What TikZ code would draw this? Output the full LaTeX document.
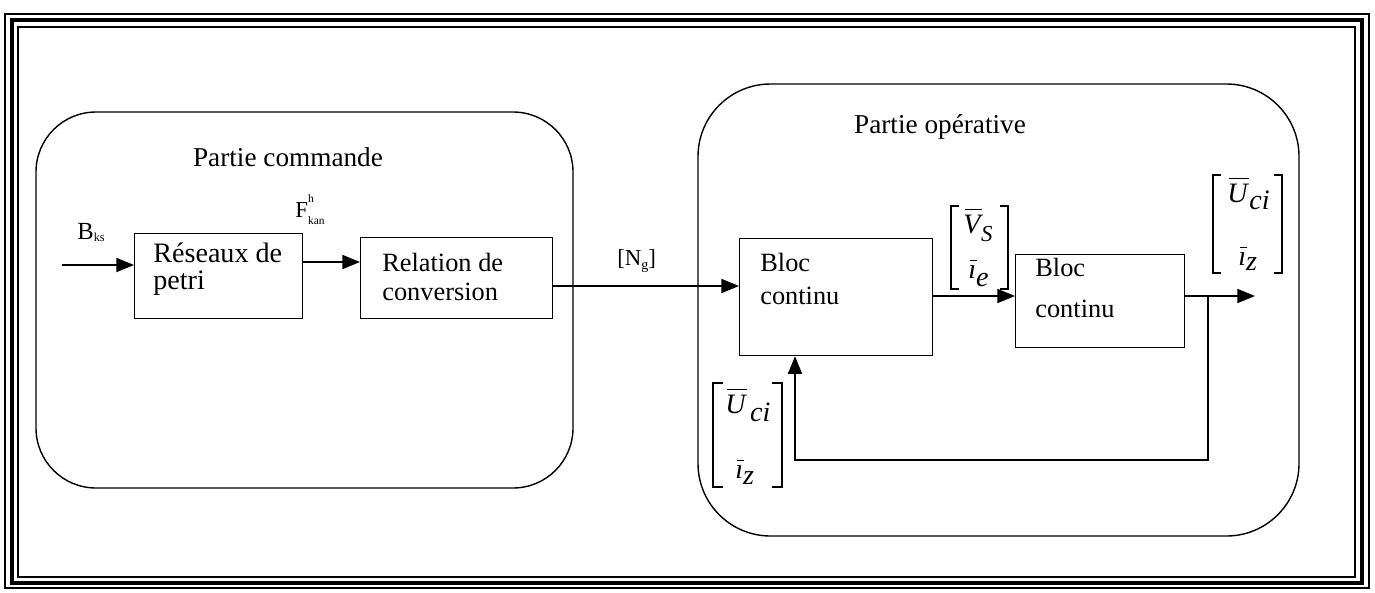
\documentclass[tikz,border=0pt]{standalone}
\usepackage{amsmath}
\usepackage{fontspec}
\setmainfont{Liberation Serif}
\usetikzlibrary{arrows.meta,calc}

% overbar drawn as a rule above a glyph (slightly shifted for italics)
\newcommand\barred[2][1.2pt]{\leavevmode\setbox0\hbox{#2}%
  \rlap{\kern#1\raisebox{\dimexpr\ht0+2.5pt\relax}{\rule{\dimexpr\wd0-0.6pt\relax}{0.6pt}}}\box0}
% same-size lowered index
\newcommand\lowidx[2]{\raisebox{-#1}{#2}}

\begin{document}
\begin{tikzpicture}[x=0.02cm,y=-0.02cm,
  blk/.style={draw,line width=0.7pt,inner sep=0pt,anchor=north west},
  lbl/.style={font=\fontsize{15}{16}\selectfont,inner sep=0pt,align=left,anchor=west},
  title/.style={font=\fontsize{15.5}{18}\selectfont,inner sep=0pt},
  small/.style={inner sep=0pt,anchor=base west},
  vec/.style={font=\fontsize{16}{18}\selectfont\itshape,inner sep=0pt,anchor=base west},
  wire/.style={line width=0.8pt},
  flow/.style={wire,-{Triangle[length=10pt,width=8pt]}},
  part/.style={draw,line width=0.8pt,rounded corners=#1},
  brk/.style={line width=0.6pt},
  thinframe/.style={line width=0.8pt},
  thickframe/.style={line width=2.4pt}
]
\useasboundingbox (0,0) rectangle (1375,592);

% triple outer frame
\draw[thinframe]  (5,14) rectangle (1369,588);
\draw[thickframe] (12,20) rectangle (1362,583);
\draw[thinframe]  (18,27) rectangle (1355,577);

% the two parts
\draw[part=1.2cm] (36,112) rectangle (573,488);
\draw[part=1.45cm] (698,84) rectangle (1299,536);
\node[title] (tcmd) at (288,157) {Partie commande};
\node[title] (top) at (940,127) {Partie opérative};

% blocks
\node[blk,minimum width=3.36cm,minimum height=1.70cm] (rp) at (134,233) {};
\node[blk,minimum width=3.84cm,minimum height=1.62cm] (rc) at (360,237) {};
\node[blk,minimum width=3.86cm,minimum height=2.34cm] (b1) at (739,238) {};
\node[blk,minimum width=3.38cm,minimum height=1.86cm] (b2) at (1015,254) {};

\node[lbl,font=\fontsize{16}{15.6}\selectfont] (rpt) at (153,269) {Réseaux de\\petri};
\node[lbl,font=\fontsize{15}{16.5}\selectfont] (rct) at (382,277) {Relation de\\conversion};
\node[lbl,font=\fontsize{15}{18.8}\selectfont] (b1t) at (760,279) {Bloc\\continu};
\node[lbl,font=\fontsize{15}{23.5}\selectfont] (b2t) at (1035,288) {Bloc\\continu};

% signal labels
\node[small] (bks) at (77,239) {\fontsize{14}{16}\selectfont B\fontsize{7}{8}\selectfont\lowidx{1.5pt}{ks}};
\node[small] (fkan) at (295,217) {\fontsize{13}{15}\selectfont F\fontsize{6.5}{7}\selectfont\rlap{\raisebox{8pt}{h}}\lowidx{4.5pt}{kan}};
\node[small] (ng) at (617,265) {\fontsize{13}{15}\selectfont [N\fontsize{8}{9}\selectfont\lowidx{2.5pt}{g}\fontsize{13}{15}\selectfont]};

% state vector between the blocks
\node[vec] (vs) at (963,233) {\barred{V}\kern0.3pt\fontsize{13}{15}\selectfont\lowidx{5pt}{S}};
\node[vec] (ie) at (968,278) {\barred[0.8pt]{ı}\lowidx{5pt}{e}};
\draw[brk] (959,206) -| (951,289) -- (959,289);
\draw[brk] (1000,206) -| (1008,289) -- (1000,289);

% output vector
\node[vec] (uo) at (1227,202) {\barred{U}\kern1pt\lowidx{4.5pt}{ci}};
\node[vec] (izo) at (1238,265) {\barred[0.8pt]{ı}\lowidx{3pt}{z}};
\draw[brk] (1221,175) -| (1213,273) -- (1221,273);
\draw[brk] (1274,175) -| (1282,273) -- (1274,273);

% fed-back vector
\node[vec] (uf) at (725,413) {\barred{U}\kern2.5pt\lowidx{5pt}{ci}};
\node[vec] (izf) at (735,478) {\barred[0.8pt]{ı}\lowidx{3.5pt}{z}};
\draw[brk] (723,383) -| (713,487) -- (723,487);
\draw[brk] (772,383) -| (782,487) -- (772,487);

% connectors
\coordinate (src) at (62,265);
\coordinate (ya) at (0,262);
\coordinate (yb) at (0,286);
\coordinate (yc) at (0,296);
\coordinate (outEnd) at (1255,296);
\coordinate (tap) at (1208,296);
\coordinate (fbR) at (1208,460);
\coordinate (fbL) at (795,460);

\draw[flow] (src) -- (src -| rp.west);
\draw[flow] (rp.east |- ya) -- (rc.west |- ya);
\draw[flow] (rc.east |- yb) -- (b1.west |- yb);
\draw[flow] (b1.east |- yc) -- (b2.west |- yc);
\draw[flow] (b2.east |- yc) -- (outEnd);
\draw[flow] (tap) -- (fbR) -- (fbL) -- (b1.south -| fbL);
\end{tikzpicture}
\end{document}
